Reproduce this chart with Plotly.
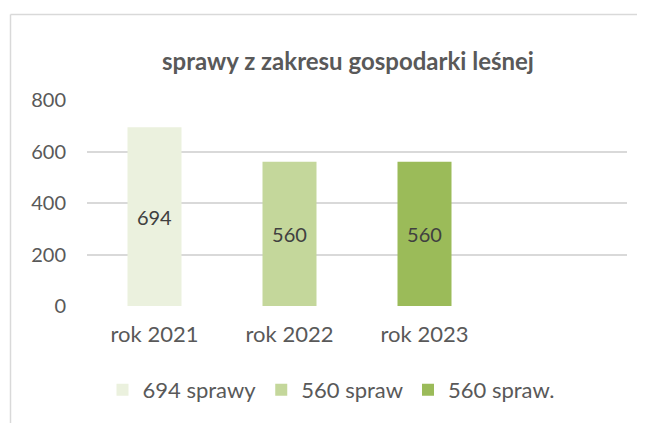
import plotly.graph_objects as go

categories = ["rok 2021", "rok 2022", "rok 2023"]
series_names = ["694 sprawy", "560 spraw", "560 spraw."]
values = [694, 560, 560]
colors = ["#EBF1DE", "#C4D79B", "#9BBB59"]
y_ticks = [0, 200, 400, 600, 800]
title_text = "sprawy z zakresu gospodarki leśnej"

FONT = "Lato"
OFF = 8  # page body margin offset

fig = go.Figure()
for cat, name, val, col in zip(categories, series_names, values, colors):
    fig.add_trace(go.Bar(
        x=[cat], y=[val], name=name,
        marker=dict(color=col, line=dict(width=0)),
        width=0.4,
        text=[str(val)], textposition="inside", insidetextanchor="middle",
        textangle=0, constraintext="none",
        textfont=dict(family=FONT, size=20, color="#404040"),
        hoverinfo="skip",
    ))

W, H = 645, 423
L = 87 - OFF
T = 100 - OFF
R = W - (627 - OFF)
B = H - (306 - OFF)
pw, ph = W - L - R, H - T - B
bx = (10.5 - OFF - L) / pw
by = 1 + (T - (14.5 - OFF)) / ph

fig.update_layout(
    width=W, height=H,
    margin=dict(l=L, r=R, t=T, b=B),
    paper_bgcolor="white", plot_bgcolor="white",
    barmode="overlay",
    title=dict(text=f"<b>{title_text}</b>", x=(348 - OFF) / W, xanchor="center",
               y=1 - (62 - OFF) / H, yanchor="middle",
               font=dict(family=FONT, size=24, color="#595959")),
    xaxis=dict(categoryorder="array", categoryarray=categories, range=[-0.5, 3.5],
               showgrid=False, showline=False, zeroline=False, ticks="",
               tickfont=dict(family=FONT, size=22, color="#595959"),
               ticklabelstandoff=13),
    yaxis=dict(range=[0, 800], tickvals=y_ticks, showgrid=True, gridcolor="#D9D9D9",
               gridwidth=1.5, zeroline=False, showline=False, ticks="",
               tickfont=dict(family=FONT, size=20, color="#595959"),
               ticklabelstandoff=20),
    showlegend=True,
    legend=dict(orientation="h", x=(331 - OFF - L) / pw, xanchor="center",
                y=((306 - OFF) - (390 - OFF)) / ph,
                yanchor="middle", font=dict(family=FONT, size=22, color="#595959"),
                traceorder="normal", itemclick=False, itemdoubleclick=False),
    shapes=[
        dict(type="line", xref="paper", yref="paper", x0=bx, x1=bx, y0=-1.0, y1=by,
             line=dict(color="#D9D9D9", width=1.5)),
        dict(type="line", xref="paper", yref="paper", x0=bx, x1=1.2, y0=by, y1=by,
             line=dict(color="#D9D9D9", width=1.5)),
    ],
)

fig.write_html("out.html")
